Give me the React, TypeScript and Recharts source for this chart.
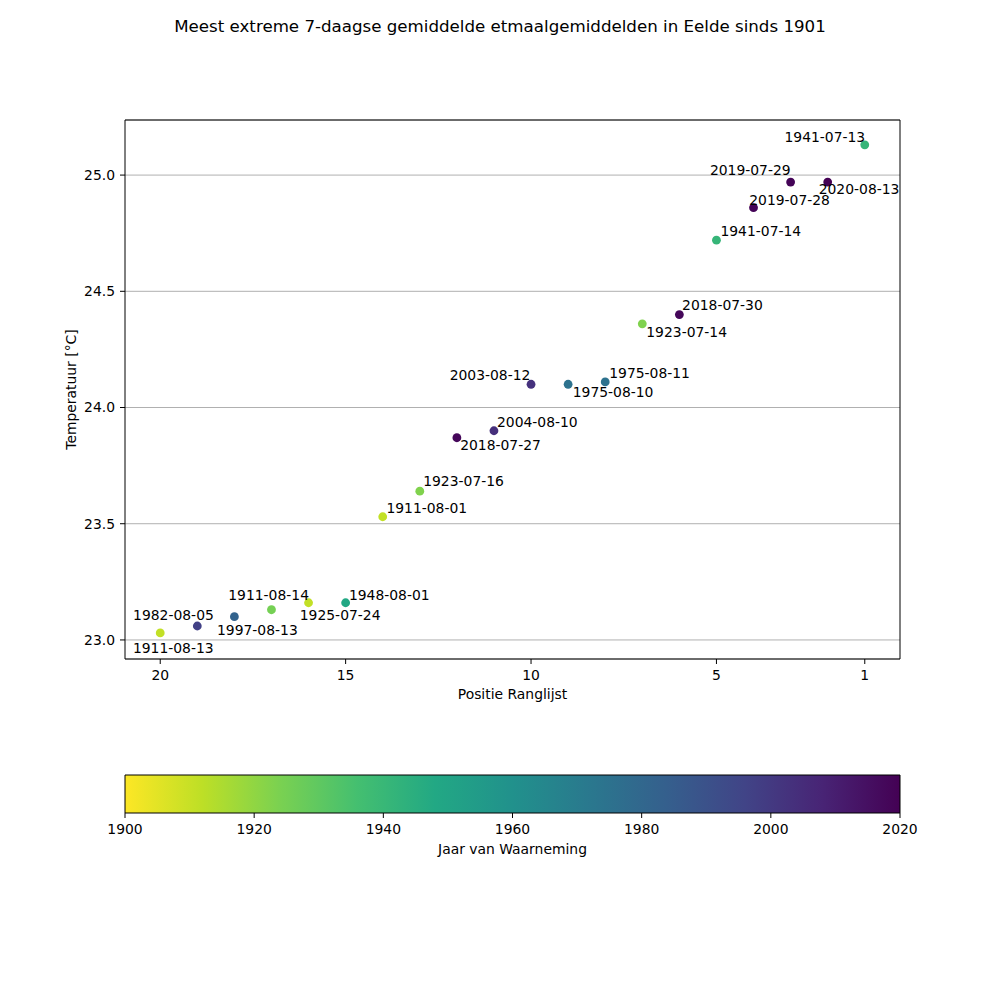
import React from 'react';
import {
  ScatterChart,
  Scatter,
  XAxis,
  YAxis,
  CartesianGrid,
  ReferenceArea,
  Label,
} from 'recharts';

// ---------- data ----------
const POSITIONS = [1, 2, 3, 4, 5, 6, 7, 8, 9, 10, 11, 12, 13, 14, 15, 16, 17, 18, 19, 20];
const TEMPERATURES = [
  25.13, 24.97, 24.97, 24.86, 24.72, 24.4, 24.36, 24.11, 24.1, 24.1,
  23.9, 23.87, 23.64, 23.53, 23.16, 23.16, 23.13, 23.1, 23.06, 23.03,
];
const DATES = [
  '1941-07-13', '2020-08-13', '2019-07-29', '2019-07-28', '1941-07-14',
  '2018-07-30', '1923-07-14', '1975-08-11', '1975-08-10', '2003-08-12',
  '2004-08-10', '2018-07-27', '1923-07-16', '1911-08-01', '1948-08-01',
  '1911-08-14', '1925-07-24', '1982-08-05', '1997-08-13', '1911-08-13',
];
const X_TICKS = [20, 15, 10, 5, 1];
const Y_TICKS = [23.0, 23.5, 24.0, 24.5, 25.0];
const YEAR_TICKS = [1900, 1920, 1940, 1960, 1980, 2000, 2020];
const YEAR_RANGE = [1900, 2020];

// label offsets (px) of the text's left edge / vertical centre relative to its point
const LABEL_OFFSETS: [number, number][] = [
  [-80.3, -8.3], [-9, 6.7], [-80.7, -11.7], [-4.3, -7.3], [4, -9.4],
  [2.7, -9.3], [4, 8.4], [4, -8.7], [4.6, 8], [-81.4, -9.3],
  [3, -8.4], [3.3, 7.7], [3.4, -9.7], [3.7, -8.7], [3.3, -8],
  [-80.3, -8], [28.3, 5], [-101.3, -2], [19.7, 3.7], [-27.3, 15],
];

// ---------- styling helpers ----------
const FONT = '"DejaVu Sans", sans-serif';
const TICK_FS = 13.9;

const VIRIDIS = [
  '#440154', '#482475', '#414487', '#355f8d', '#2a788e', '#21918c',
  '#22a884', '#44bf70', '#7ad151', '#bddf26', '#fde725',
];

function hexToRgb(h: string) {
  return [parseInt(h.slice(1, 3), 16), parseInt(h.slice(3, 5), 16), parseInt(h.slice(5, 7), 16)];
}
function viridis(t: number) {
  const c = Math.max(0, Math.min(1, t)) * (VIRIDIS.length - 1);
  const i = Math.min(VIRIDIS.length - 2, Math.floor(c));
  const f = c - i;
  const a = hexToRgb(VIRIDIS[i]);
  const b = hexToRgb(VIRIDIS[i + 1]);
  const m = a.map((v, k) => Math.round(v + (b[k] - v) * f));
  return `rgb(${m[0]},${m[1]},${m[2]})`;
}
function yearColor(year: number) {
  const t = (year - YEAR_RANGE[0]) / (YEAR_RANGE[1] - YEAR_RANGE[0]);
  return viridis(1 - t);
}

const rows = POSITIONS.map((p, i) => ({
  pos: p,
  temp: TEMPERATURES[i],
  date: DATES[i],
  year: Number(DATES[i].slice(0, 4)),
}));

const barRows = YEAR_RANGE.map((y, i) => ({ year: y, v: i }));

const Dot = (props: any) => {
  const { cx, cy, payload } = props;
  if (cx == null || cy == null) return null;
  return <circle cx={cx} cy={cy} r={4.4} fill={yearColor(payload.year)} />;
};

const DateLabel = (props: any) => {
  const { cx, cy, payload } = props;
  if (cx == null || cy == null) return null;
  const [dx, dy] = LABEL_OFFSETS[payload.pos - 1];
  return (
    <text x={cx + dx} y={cy + dy + 5} fontSize={TICK_FS} fontFamily={FONT} fill="#000">
      {payload.date}
    </text>
  );
};

const NoShape = () => <g />;

const tickStyle = { fill: '#000', fontSize: TICK_FS, fontFamily: FONT };

const X_DOMAIN = [0.05, 20.95];
const Y_DOMAIN = [22.918, 25.237];

// gradient stops: yellow (oldest year) on the left, purple (newest) on the right
const GRADIENT_STOPS = VIRIDIS.map((_, i) => ({
  offset: `${(i * 100) / (VIRIDIS.length - 1)}%`,
  color: VIRIDIS[VIRIDIS.length - 1 - i],
}));

export default function App() {
  return (
    <div
      style={{
        position: 'absolute',
        left: 0,
        top: 0,
        width: 1000,
        height: 1000,
        background: '#fff',
        fontFamily: FONT,
      }}
    >
      <div
        style={{
          position: 'absolute',
          left: 0,
          top: 17,
          width: 1000,
          textAlign: 'center',
          fontSize: 16.67,
          lineHeight: '20px',
          color: '#000',
        }}
      >
        Meest extreme 7-daagse gemiddelde etmaalgemiddelden in Eelde sinds 1901
      </div>

      <div style={{ position: 'absolute', left: 0, top: 0 }}>
        <ScatterChart
          width={1000}
          height={1000}
          margin={{ top: 120, right: 100, bottom: 281, left: 65 }}
        >
          <CartesianGrid vertical={false} stroke="#b0b0b0" strokeWidth={1} />
          <XAxis
            type="number"
            dataKey="pos"
            domain={X_DOMAIN}
            allowDataOverflow
            reversed
            ticks={X_TICKS}
            interval={0}
            height={60}
            tickSize={5}
            tickMargin={6}
            axisLine={false}
            tickLine={{ stroke: '#000' }}
            tick={tickStyle}
          >
            <Label
              content={(p: any) => {
                const vb = p.viewBox || {};
                return (
                  <text
                    x={vb.x + vb.width / 2}
                    y={vb.y + 40}
                    textAnchor="middle"
                    fontSize={TICK_FS}
                    fontFamily={FONT}
                    fill="#000"
                  >
                    Positie Ranglijst
                  </text>
                );
              }}
            />
          </XAxis>
          <YAxis
            type="number"
            dataKey="temp"
            domain={Y_DOMAIN}
            allowDataOverflow
            ticks={Y_TICKS}
            interval={0}
            width={60}
            tickSize={5}
            tickMargin={5}
            axisLine={false}
            tickLine={{ stroke: '#000' }}
            tick={tickStyle}
            tickFormatter={(v: number) => v.toFixed(1)}
          >
            <Label
              content={(p: any) => {
                const vb = p.viewBox || {};
                const cx = vb.x + 11;
                const cy = vb.y + vb.height / 2;
                return (
                  <text
                    x={cx}
                    y={cy}
                    transform={`rotate(-90, ${cx}, ${cy})`}
                    textAnchor="middle"
                    fontSize={TICK_FS}
                    fontFamily={FONT}
                    fill="#000"
                  >
                    Temperatuur [°C]
                  </text>
                );
              }}
            />
          </YAxis>
          <ReferenceArea
            x1={X_DOMAIN[0]}
            x2={X_DOMAIN[1]}
            y1={Y_DOMAIN[0]}
            y2={Y_DOMAIN[1]}
            fill="none"
            fillOpacity={0}
            stroke="#000"
            strokeWidth={1}
            ifOverflow="visible"
          />
          <Scatter data={rows} shape={Dot} isAnimationActive={false} />
          <Scatter data={rows} shape={DateLabel} isAnimationActive={false} />
        </ScatterChart>
      </div>

      <div style={{ position: 'absolute', left: 0, top: 0 }}>
        <ScatterChart
          width={1000}
          height={900}
          margin={{ top: 775, right: 100, bottom: 37, left: 125 }}
        >
          <defs>
            <linearGradient id="viridisBar" x1="0" y1="0" x2="1" y2="0">
              {GRADIENT_STOPS.map((s, i) => (
                <stop key={i} offset={s.offset} stopColor={s.color} />
              ))}
            </linearGradient>
          </defs>
          <XAxis
            type="number"
            dataKey="year"
            domain={YEAR_RANGE}
            allowDataOverflow
            ticks={YEAR_TICKS}
            interval={0}
            height={50}
            tickSize={5}
            tickMargin={6}
            axisLine={false}
            tickLine={{ stroke: '#000' }}
            tick={tickStyle}
          >
            <Label
              content={(p: any) => {
                const vb = p.viewBox || {};
                return (
                  <text
                    x={vb.x + vb.width / 2}
                    y={vb.y + 41}
                    textAnchor="middle"
                    fontSize={TICK_FS}
                    fontFamily={FONT}
                    fill="#000"
                  >
                    Jaar van Waarneming
                  </text>
                );
              }}
            />
          </XAxis>
          <YAxis type="number" dataKey="v" domain={[0, 1]} allowDataOverflow width={0} hide />
          <ReferenceArea
            x1={YEAR_RANGE[0]}
            x2={YEAR_RANGE[1]}
            y1={0}
            y2={1}
            fill="url(#viridisBar)"
            fillOpacity={1}
            stroke="#000"
            strokeWidth={1}
            ifOverflow="visible"
          />
          <Scatter data={barRows} shape={NoShape} isAnimationActive={false} />
        </ScatterChart>
      </div>
    </div>
  );
}
